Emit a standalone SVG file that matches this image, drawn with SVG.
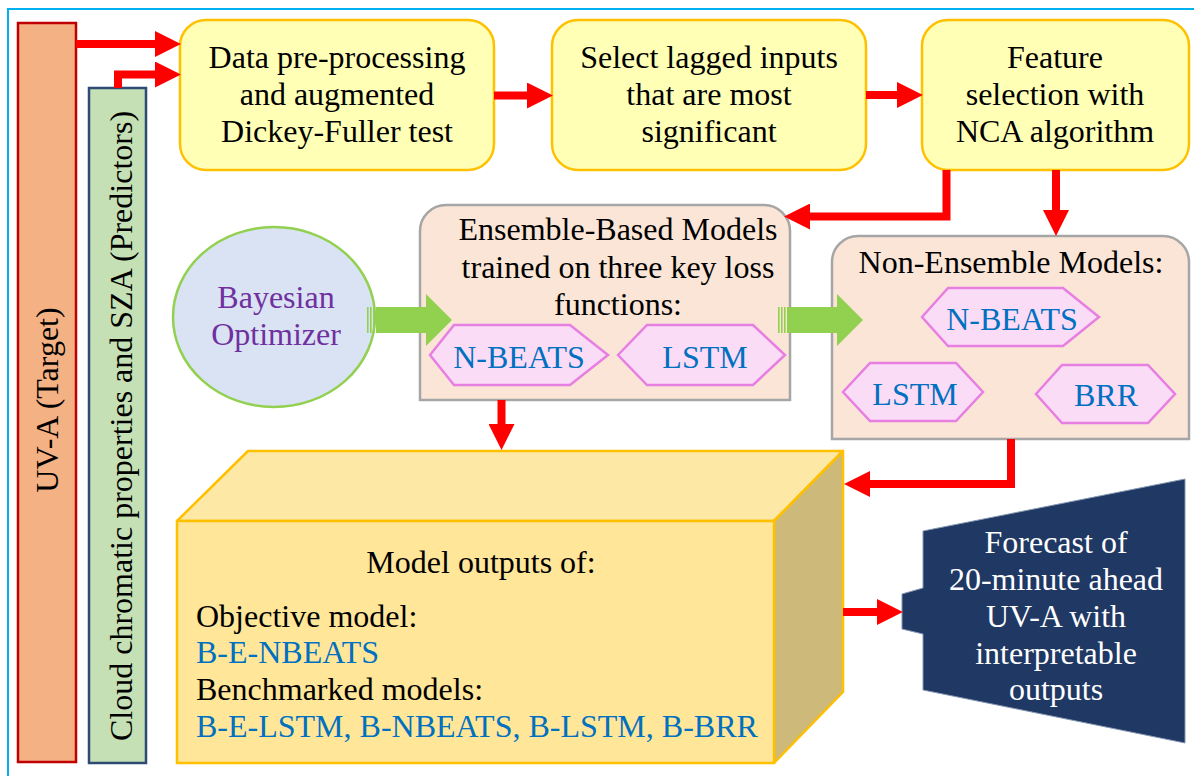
<svg xmlns="http://www.w3.org/2000/svg" width="1194" height="776" viewBox="0 0 1194 776">
<defs>
<style>
text{font-family:"Liberation Serif","Times New Roman",serif;font-size:32px;fill:#000}
.c{text-anchor:middle}
.blue{fill:#0070c0}
.purple{fill:#7030a0}
.white{fill:#fff}
.step{fill:#ffffb5;stroke:#ffc000;stroke-width:2.5}
.group{fill:#fbe5d6;stroke:#a6a6a6;stroke-width:2.5}
.hex{fill:#fbdcf6;stroke:#e77fe3;stroke-width:2.5}
.red{fill:none;stroke:#ff0000;stroke-width:8;stroke-linejoin:miter;marker-end:url(#ah)}
.garrow{fill:#92d050}
</style>
<marker id="ah" markerUnits="userSpaceOnUse" markerWidth="26" markerHeight="26" viewBox="0 0 25 25" refX="1" refY="12.5" orient="auto">
<path d="M0,0 L25,12.5 L0,25 Z" fill="#ff0000"/>
</marker>
</defs>
<rect width="1194" height="776" fill="#fff"/>
<rect x="8" y="9" width="1210" height="800" fill="none" stroke="#00b0f0" stroke-width="2"/>

<g id="uva">
<rect x="18" y="23" width="58" height="739" fill="#f4b183" stroke="#c00000" stroke-width="2.5"/>
<text class="c" transform="translate(58,400) rotate(-90)">UV-A (Target)</text>
</g>
<g id="predictors">
<rect x="89" y="88" width="57" height="675" fill="#c5e0b4" stroke="#2f4a74" stroke-width="2.5"/>
<text class="c" transform="translate(132,426) rotate(-90)">Cloud chromatic properties and SZA (Predictors)</text>
</g>

<g id="preprocess">
<rect class="step" x="180" y="20" width="314" height="150" rx="26"/>
<text class="c" x="337" y="68">Data pre-processing</text>
<text class="c" x="337" y="105">and augmented</text>
<text class="c" x="337" y="142">Dickey-Fuller test</text>
</g>
<g id="lagged">
<rect class="step" x="552" y="20" width="314" height="150" rx="26"/>
<text class="c" x="709" y="68">Select lagged inputs</text>
<text class="c" x="709" y="105">that are most</text>
<text class="c" x="709" y="142">significant</text>
</g>
<g id="nca">
<rect class="step" x="922" y="20" width="267" height="150" rx="26"/>
<text class="c" x="1055" y="68">Feature</text>
<text class="c" x="1055" y="105">selection with</text>
<text class="c" x="1055" y="142">NCA algorithm</text>
</g>

<g id="bayesian">
<ellipse cx="274" cy="317" rx="101" ry="90" fill="#dae3f3" stroke="#92d050" stroke-width="2.5"/>
<text class="c purple" x="276" y="308">Bayesian</text>
<text class="c purple" x="276" y="345">Optimizer</text>
</g>

<g id="ensemble">
<path class="group" d="M420,400 V231 A26,26 0 0 1 446,205 H764 A26,26 0 0 1 790,231 V400 Z"/>
<text class="c" x="618" y="240">Ensemble-Based Models</text>
<text class="c" x="618" y="278">trained on three key loss</text>
<text class="c" x="618" y="315">functions:</text>
<g id="ens-nbeats">
<polygon class="hex" points="430,355 454,325 570,325 608,355 570,385 454,385"/>
<text class="c blue" x="519" y="368">N-BEATS</text>
</g>
<g id="ens-lstm">
<polygon class="hex" points="618,355 647,325 753,325 785,355 753,385 647,385"/>
<text class="c blue" x="705" y="368">LSTM</text>
</g>
</g>

<g id="nonensemble">
<path class="group" d="M832,439 V262 A26,26 0 0 1 858,236 H1163 A26,26 0 0 1 1189,262 V439 Z"/>
<text class="c" x="1011" y="273">Non-Ensemble Models:</text>
<g id="ne-nbeats">
<polygon class="hex" points="922,317 948,288 1063,288 1099,317 1063,346 948,346"/>
<text class="c blue" x="1012" y="330">N-BEATS</text>
</g>
<g id="ne-lstm">
<polygon class="hex" points="843,392 870,363 956,363 983,392 956,421 870,421"/>
<text class="c blue" x="915" y="405">LSTM</text>
</g>
<g id="ne-brr">
<polygon class="hex" points="1036,394 1062,365 1148,365 1175,394 1148,423 1062,423"/>
<text class="c blue" x="1106" y="406">BRR</text>
</g>
</g>

<g id="outputs">
<polygon points="177,521 248,451 843,451 774,521" fill="#fee8a6" stroke="#ffc000" stroke-width="2.5" stroke-linejoin="round"/>
<polygon points="774,521 843,451 843,692 774,763" fill="#cdb97a" stroke="#ffc000" stroke-width="2.5" stroke-linejoin="round"/>
<rect x="177" y="521" width="597" height="242" fill="#ffe699" stroke="#ffc000" stroke-width="2.5"/>
<text class="c" x="481" y="573">Model outputs of:</text>
<text x="196" y="627">Objective model:</text>
<text class="blue" x="196" y="663">B-E-NBEATS</text>
<text x="196" y="700">Benchmarked models:</text>
<text class="blue" x="196" y="737">B-E-LSTM, B-NBEATS, B-LSTM, B-BRR</text>
</g>

<g id="forecast">
<polygon points="923,531 1185,479 1185,743 923,690 923,634 902,629 902,594 923,588" fill="#203864" stroke="#8497b0" stroke-width="1"/>
<text class="c white" x="1056" y="553">Forecast of</text>
<text class="c white" x="1056" y="590">20-minute ahead</text>
<text class="c white" x="1056" y="627">UV-A with</text>
<text class="c white" x="1056" y="664">interpretable</text>
<text class="c white" x="1056" y="700">outputs</text>
</g>

<g id="connectors">
<path class="red" d="M76,44 H156"/>
<path class="red" d="M118,88 V74.5 H156"/>
<path class="red" d="M494,95.5 H528"/>
<path class="red" d="M866,95 H898"/>
<path class="red" d="M946.5,170 V216.5 H809"/>
<path class="red" d="M1056,170 V211"/>
<path class="red" d="M501.5,400 V425"/>
<path class="red" d="M1011,439 V484 H869"/>
<path class="red" d="M843,612 H878"/>
<g class="garrow">
<rect x="367" y="307" width="1.6" height="26"/>
<rect x="370" y="307" width="1.6" height="26"/>
<rect x="373" y="307" width="1.6" height="26"/>
<polygon points="376,307 426,307 426,294 452,320 426,346 426,333 376,333"/>
<rect x="778" y="307" width="1.6" height="26"/>
<rect x="781" y="307" width="1.6" height="26"/>
<rect x="784" y="307" width="1.6" height="26"/>
<polygon points="787,307 837,307 837,294 863,320 837,346 837,333 787,333"/>
</g>
</g>
</svg>
